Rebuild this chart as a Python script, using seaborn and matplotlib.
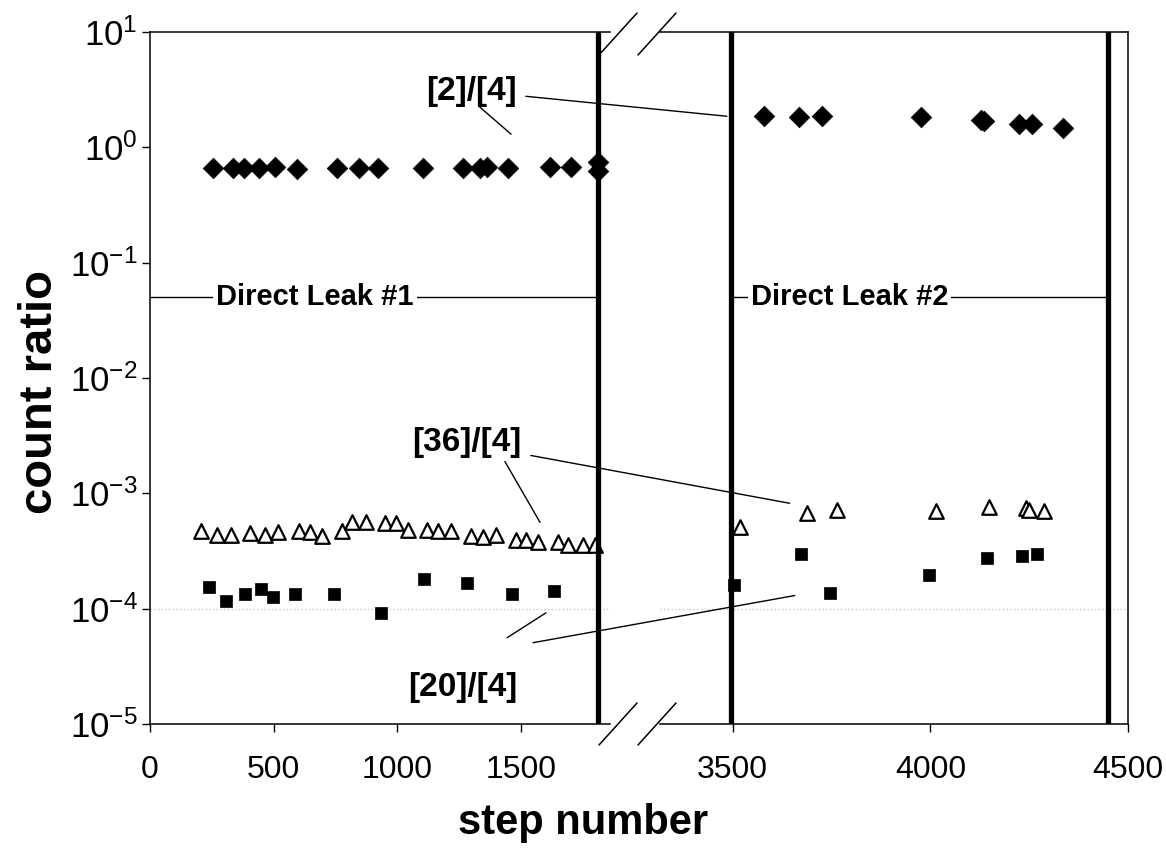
import matplotlib
matplotlib.use("Agg")
import matplotlib.pyplot as plt
import matplotlib.ticker as mticker
from matplotlib.patches import ConnectionPatch
from matplotlib.lines import Line2D
import pandas as pd
import seaborn as sns

# [2]/[4] count ratio (diamonds)
r2_step = [255, 336, 380, 441, 505, 594, 756, 845, 922, 1104, 1266, 1334, 1363, 1448,
           1617, 1702, 1812, 1812,
           3578, 3667, 3727, 3977, 4128, 4136, 4225, 4258, 4336]
r2_val = [0.66, 0.66, 0.66, 0.66, 0.67, 0.65, 0.66, 0.66, 0.66, 0.66, 0.66, 0.66, 0.67, 0.66,
          0.67, 0.67, 0.74, 0.62,
          1.88, 1.84, 1.88, 1.84, 1.72, 1.68, 1.58, 1.58, 1.46]

# [36]/[4] count ratio (open triangles)
r36_step = [206, 271, 328, 404, 465, 518, 602, 647, 696, 776, 817, 873, 950, 995, 1043,
            1120, 1165, 1217, 1298, 1347, 1399, 1480, 1520, 1569, 1650, 1690, 1751, 1799,
            3518, 3687, 3765, 4013, 4149, 4242, 4250, 4288]
r36_val = [4.69e-4, 4.33e-4, 4.33e-4, 4.50e-4, 4.33e-4, 4.59e-4, 4.69e-4, 4.59e-4, 4.24e-4,
           4.69e-4, 5.61e-4, 5.61e-4, 5.50e-4, 5.50e-4, 4.78e-4, 4.78e-4, 4.69e-4, 4.69e-4,
           4.24e-4, 4.16e-4, 4.33e-4, 3.92e-4, 3.92e-4, 3.76e-4, 3.76e-4, 3.54e-4, 3.54e-4,
           3.54e-4,
           5.1e-4, 6.7e-4, 7.1e-4, 7.0e-4, 7.6e-4, 7.4e-4, 7.2e-4, 7.0e-4]

# [20]/[4] count ratio (filled squares)
r20_step = [239, 307, 384, 449, 497, 586, 744, 934, 1108, 1282, 1464, 1634,
            3503, 3672, 3745, 3997, 4144, 4232, 4270]
r20_val = [1.55e-4, 1.17e-4, 1.35e-4, 1.49e-4, 1.27e-4, 1.35e-4, 1.35e-4, 0.92e-4, 1.82e-4,
           1.68e-4, 1.35e-4, 1.43e-4,
           1.6e-4, 3.0e-4, 1.38e-4, 1.95e-4, 2.75e-4, 2.85e-4, 2.95e-4]

# direct leak boundaries (step numbers)
leak_edges = [1812, 3495, 4450]
leak_names = ["Direct Leak #1", "Direct Leak #2"]
leak_level = 0.05

left_ticks = [0, 500, 1000, 1500]
right_ticks = [3500, 4000, 4500]

sns.set_theme(style="ticks")
plt.rcParams["font.family"] = ["Liberation Sans", "DejaVu Sans"]
for key in ("text.color", "axes.labelcolor", "xtick.color", "ytick.color"):
    plt.rcParams[key] = "black"

W, H = 1166, 859


def px(x, y):
    return x / W, 1 - y / H


fig = plt.figure(figsize=(W / 100, H / 100), dpi=100)
b = 1 - 724 / H
h = (724 - 32) / H
ax1 = fig.add_axes([150 / W, b, (610 - 150) / W, h])
ax2 = fig.add_axes([660 / W, b, (1128 - 660) / W, h])

df2 = pd.DataFrame({"step": r2_step, "ratio": r2_val})
df36 = pd.DataFrame({"step": r36_step, "ratio": r36_val})
df20 = pd.DataFrame({"step": r20_step, "ratio": r20_val})

for ax in (ax1, ax2):
    ax.axhline(1e-4, color="#c4c4c4", lw=1, ls=":", zorder=0)
    sns.scatterplot(data=df2, x="step", y="ratio", marker="D", s=110, color="black",
                    edgecolor="black", linewidth=0.5, ax=ax, zorder=3)
    sns.scatterplot(data=df36, x="step", y="ratio", marker="^", s=110, color="white",
                    edgecolor="black", linewidth=1.6, ax=ax, zorder=3)
    sns.scatterplot(data=df20, x="step", y="ratio", marker="s", s=70, color="black",
                    edgecolor="black", linewidth=0.5, ax=ax, zorder=3)
    for xv in leak_edges:
        ax.axvline(xv, color="black", lw=3.8, zorder=4)
    ax.set_yscale("log")
    ax.set_ylim(1e-5, 10)
    ax.set_xlabel("")
    ax.set_ylabel("")
    ax.yaxis.set_major_locator(mticker.LogLocator(base=10, numticks=10))
    ax.yaxis.set_minor_locator(mticker.NullLocator())
    for sp in ax.spines.values():
        sp.set_linewidth(1.1)
        sp.set_color("black")
    ax.tick_params(axis="x", direction="out", length=6, width=1, pad=16, labelsize=23)
    ax.tick_params(axis="y", direction="out", length=6, width=1, pad=3, labelsize=25)

ax1.set_xlim(0, 1860)
ax1.set_xticks(left_ticks)
ax1.spines["right"].set_visible(False)
ax1.yaxis.set_major_formatter(mticker.LogFormatterMathtext())

ax2.set_xlim(3316, 4500)
ax2.set_xticks(right_ticks)
ax2.spines["left"].set_visible(False)
ax2.tick_params(axis="y", left=False, labelleft=False)

# direct leak spans
ax1.plot([0, leak_edges[0]], [leak_level, leak_level], color="black", lw=1, zorder=2)
ax1.text(667, leak_level, leak_names[0], ha="center", va="center", fontsize=21,
         fontweight="bold", bbox=dict(facecolor="white", edgecolor="none", pad=2), zorder=5)
ax2.plot([leak_edges[1], leak_edges[2]], [leak_level, leak_level], color="black", lw=1, zorder=2)
ax2.text(3795, leak_level, leak_names[1], ha="center", va="center", fontsize=21,
         fontweight="bold", bbox=dict(facecolor="white", edgecolor="none", pad=2), zorder=5)

# series labels with leader lines
lab_kw = dict(ha="center", va="center", fontsize=24, fontweight="bold")
ax1.text(1300, 3.06, "[2]/[4]", **lab_kw)
ax1.text(1282, 2.77e-3, "[36]/[4]", **lab_kw)
ax1.text(1266, 2.07e-5, "[20]/[4]", **lab_kw)

ax1.plot([1330, 1460], [2.27, 1.30], color="black", lw=1)
ax1.plot([1435, 1577], [1.89e-3, 5.6e-4], color="black", lw=1)
ax1.plot([1444, 1601], [5.6e-5, 9.2e-5], color="black", lw=1)

for a, bpt in [((1520, 2.77), (3485, 1.86)),
               ((1540, 2.13e-3), (3644, 8.2e-4)),
               ((1549, 5.07e-5), (3657, 1.3e-4))]:
    con = ConnectionPatch(xyA=a, coordsA=ax1.transData, xyB=bpt, coordsB=ax2.transData,
                          color="black", lw=1, zorder=6)
    fig.add_artist(con)

# axis break marks
for yc in (34, 724):
    for xc in (618, 657):
        x0, y0 = px(xc - 19, yc + 21)
        x1, y1 = px(xc + 19, yc - 21)
        fig.add_artist(Line2D([x0, x1], [y0, y1], color="black", lw=1.1,
                              transform=fig.transFigure))

fig.text(*px(40, 392), "count ratio", rotation=90, ha="center", va="center",
         fontsize=34, fontweight="bold")
fig.text(*px(583, 823), "step number", ha="center", va="center",
         fontsize=30, fontweight="bold")

fig.savefig("out.png", dpi=100, facecolor="white")
